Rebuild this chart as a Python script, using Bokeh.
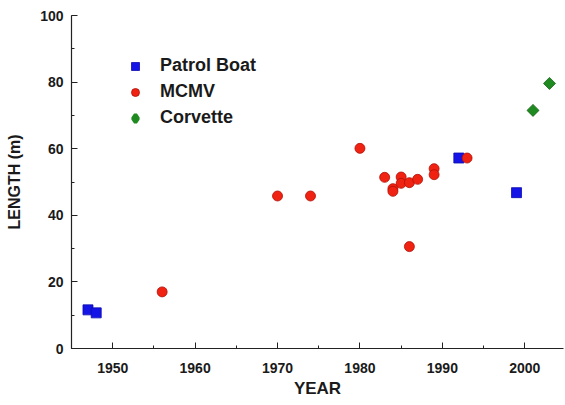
import math
from bokeh.plotting import figure
from bokeh.embed import file_html
from bokeh.resources import INLINE
from bokeh.models import Range1d, SingleIntervalTicker, Legend, LegendItem

# Data
patrol_year = [1947, 1948, 1992, 1999]
patrol_len = [11.6, 10.7, 57.2, 46.8]

mcmv_year = [1956, 1970, 1974, 1980, 1983, 1984, 1984, 1985, 1985, 1986, 1986, 1987, 1989, 1989, 1993]
mcmv_len = [17.0, 45.8, 45.8, 60.1, 51.4, 48.0, 47.2, 51.5, 49.6, 30.6, 49.8, 50.8, 54.0, 52.2, 57.2]

corv_year = [2001, 2003]
corv_len = [71.5, 79.6]

FONT = "Liberation Sans"
TXT = "#1a1a1a"
GREEN = "#1f8a1f"

p = figure(width=565, height=405, output_backend="svg", toolbar_location=None,
           x_range=Range1d(1945, 2004.7), y_range=Range1d(0, 100),
           min_border_left=71, min_border_top=15, min_border_right=2, min_border_bottom=57)
p.outline_line_color = None
p.xgrid.visible = False
p.ygrid.visible = False
p.background_fill_color = "white"
p.border_fill_color = "white"

p.xaxis.ticker = SingleIntervalTicker(interval=10, num_minor_ticks=2)
p.yaxis.ticker = SingleIntervalTicker(interval=20, num_minor_ticks=2)

for ax in (p.xaxis[0], p.yaxis[0]):
    ax.axis_line_color = "#222222"
    ax.axis_line_width = 1.2
    ax.major_tick_line_color = "#222222"
    ax.minor_tick_line_color = "#222222"
    ax.major_tick_in = 6
    ax.major_tick_out = 0
    ax.minor_tick_in = 3
    ax.minor_tick_out = 0
    ax.major_label_text_font = FONT
    ax.major_label_text_font_style = "bold"
    ax.major_label_text_font_size = "14px"
    ax.major_label_text_color = TXT
    ax.axis_label_text_font = FONT
    ax.axis_label_text_font_style = "bold"
    ax.axis_label_text_color = TXT

p.xaxis.axis_label = "YEAR"
p.xaxis.axis_label_text_font_size = "17px"
p.xaxis.major_label_standoff = 14
p.xaxis.axis_label_standoff = 3

p.yaxis.axis_label = "LENGTH (m)"
p.yaxis.axis_label_text_font_size = "16px"
p.yaxis.major_label_standoff = 8
p.yaxis.axis_label_standoff = 14

r1 = p.scatter(patrol_year, patrol_len, marker="square", size=10,
               fill_color="#1414e6", line_color="#0c0cb0", line_width=0.8)
r2 = p.scatter(mcmv_year, mcmv_len, marker="circle", size=10,
               fill_color="#f02212", line_color="#b01008", line_width=0.8)
r3 = p.scatter(corv_year, corv_len, marker="square", size=8.5, angle=math.pi / 4,
               fill_color=GREEN, line_color="#156015", line_width=0.8)
# hidden twin of the corvette series, used only for its legend swatch
r3_key = p.scatter(corv_year, corv_len, marker="diamond", size=8,
                   fill_color=GREEN, line_color=GREEN, line_width=3.5)
r3_key.visible = False

legend = Legend(items=[LegendItem(label="Patrol Boat", renderers=[r1]),
                       LegendItem(label="MCMV", renderers=[r2]),
                       LegendItem(label="Corvette", renderers=[r3_key])],
                location=(54, 220))
legend.border_line_color = None
legend.background_fill_alpha = 0
legend.inactive_fill_alpha = 0
legend.padding = 0
legend.margin = 0
legend.spacing = 5
legend.glyph_width = 20
legend.glyph_height = 20
legend.label_standoff = 15
legend.label_text_font = FONT
legend.label_text_font_style = "bold"
legend.label_text_font_size = "18px"
legend.label_text_color = TXT
legend.label_height = 20
p.add_layout(legend)

open("out.html", "w").write(file_html(p, INLINE))
